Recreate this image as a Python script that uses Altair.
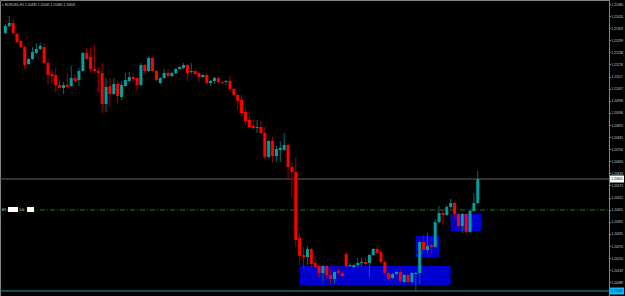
import altair as alt
import pandas as pd

# ---- candle data (EURUSD, H1) ----
opens = [1.21335, 1.21370, 1.21385, 1.21330, 1.21295, 1.21265, 1.21180, 1.21205, 1.21235, 1.21255,
         1.21265, 1.21185, 1.21130, 1.21125, 1.21075, 1.21060, 1.21075, 1.21070, 1.21110, 1.21100,
         1.21145, 1.21235, 1.21215, 1.21155, 1.21145, 1.21135, 1.20980, 1.21070, 1.21030, 1.21080,
         1.21015, 1.21070, 1.21095, 1.21115, 1.21110, 1.21075, 1.21175, 1.21145, 1.21210, 1.21145,
         1.21085, 1.21110, 1.21135, 1.21120, 1.21135, 1.21155, 1.21160, 1.21175, 1.21140, 1.21145,
         1.21135, 1.21115, 1.21125, 1.21085, 1.21095, 1.21110, 1.21090, 1.21090, 1.21095, 1.21055,
         1.21025, 1.21000, 1.20940, 1.20900, 1.20870, 1.20860, 1.20865, 1.20835, 1.20715, 1.20795,
         1.20720, 1.20750, 1.20750, 1.20775, 1.20665, 1.20640, 1.20310, 1.20225, 1.20215, 1.20255,
         1.20185, 1.20170, 1.20135, 1.20170, 1.20125, 1.20105, 1.20145, 1.20135, 1.20230, 1.20170,
         1.20165, 1.20175, 1.20185, 1.20190, 1.20185, 1.20225, 1.20255, 1.20240, 1.20190, 1.20135,
         1.20110, 1.20130, 1.20140, 1.20090, 1.20125, 1.20090, 1.20130, 1.20135, 1.20290, 1.20250,
         1.20275, 1.20265, 1.20390, 1.20435, 1.20425, 1.20465, 1.20485, 1.20430, 1.20370, 1.20430,
         1.20340, 1.20445, 1.20485]
highs = [1.21380, 1.21420, 1.21405, 1.21335, 1.21300, 1.21270, 1.21210, 1.21265, 1.21285, 1.21285,
         1.21285, 1.21205, 1.21155, 1.21160, 1.21100, 1.21090, 1.21135, 1.21170, 1.21130, 1.21160,
         1.21240, 1.21260, 1.21260, 1.21275, 1.21165, 1.21185, 1.21110, 1.21110, 1.21110, 1.21095,
         1.21095, 1.21135, 1.21140, 1.21135, 1.21115, 1.21185, 1.21180, 1.21215, 1.21215, 1.21150,
         1.21115, 1.21155, 1.21155, 1.21140, 1.21160, 1.21170, 1.21185, 1.21180, 1.21185, 1.21150,
         1.21140, 1.21130, 1.21135, 1.21100, 1.21115, 1.21115, 1.21095, 1.21100, 1.21120, 1.21060,
         1.21030, 1.21025, 1.20960, 1.20925, 1.20900, 1.20900, 1.20895, 1.20865, 1.20800, 1.20815,
         1.20775, 1.20795, 1.20835, 1.20780, 1.20690, 1.20715, 1.20335, 1.20265, 1.20270, 1.20260,
         1.20215, 1.20175, 1.20175, 1.20175, 1.20150, 1.20145, 1.20160, 1.20145, 1.20240, 1.20185,
         1.20180, 1.20210, 1.20210, 1.20210, 1.20230, 1.20260, 1.20265, 1.20255, 1.20195, 1.20140,
         1.20135, 1.20145, 1.20155, 1.20130, 1.20130, 1.20140, 1.20140, 1.20295, 1.20325, 1.20335,
         1.20315, 1.20405, 1.20470, 1.20450, 1.20475, 1.20505, 1.20490, 1.20435, 1.20435, 1.20435,
         1.20450, 1.20535, 1.20645]
lows = [1.21330, 1.21365, 1.21330, 1.21280, 1.21260, 1.21155, 1.21175, 1.21200, 1.21230, 1.21250,
        1.21180, 1.21080, 1.21080, 1.21040, 1.21055, 1.21030, 1.21060, 1.21065, 1.21085, 1.21070,
        1.21140, 1.21200, 1.21140, 1.21135, 1.21040, 1.20935, 1.20940, 1.20965, 1.21025, 1.20985,
        1.21000, 1.21065, 1.21090, 1.21090, 1.21045, 1.21070, 1.21130, 1.21140, 1.21140, 1.21090,
        1.21080, 1.21105, 1.21115, 1.21115, 1.21130, 1.21150, 1.21155, 1.21095, 1.21130, 1.21125,
        1.21090, 1.21110, 1.21080, 1.21070, 1.21080, 1.21085, 1.21080, 1.21075, 1.21050, 1.21020,
        1.20950, 1.20915, 1.20875, 1.20860, 1.20850, 1.20835, 1.20830, 1.20710, 1.20710, 1.20690,
        1.20690, 1.20690, 1.20745, 1.20600, 1.20515, 1.20265, 1.20175, 1.20155, 1.20175, 1.20165,
        1.20160, 1.20110, 1.20095, 1.20105, 1.20080, 1.20080, 1.20130, 1.20115, 1.20165, 1.20165,
        1.20160, 1.20160, 1.20165, 1.20175, 1.20115, 1.20220, 1.20230, 1.20185, 1.20130, 1.20100,
        1.20105, 1.20125, 1.20090, 1.20085, 1.20085, 1.20080, 1.20040, 1.20080, 1.20245, 1.20235,
        1.20225, 1.20260, 1.20385, 1.20375, 1.20420, 1.20460, 1.20410, 1.20360, 1.20335, 1.20335,
        1.20335, 1.20440, 1.20480]
closes = [1.21370, 1.21385, 1.21335, 1.21290, 1.21265, 1.21175, 1.21205, 1.21240, 1.21255, 1.21270,
          1.21185, 1.21125, 1.21120, 1.21075, 1.21060, 1.21075, 1.21065, 1.21110, 1.21095, 1.21145,
          1.21235, 1.21205, 1.21155, 1.21145, 1.21135, 1.20980, 1.21065, 1.21030, 1.21080, 1.21020,
          1.21075, 1.21100, 1.21115, 1.21105, 1.21075, 1.21175, 1.21145, 1.21210, 1.21145, 1.21100,
          1.21110, 1.21135, 1.21120, 1.21135, 1.21155, 1.21165, 1.21175, 1.21135, 1.21145, 1.21130,
          1.21115, 1.21125, 1.21085, 1.21095, 1.21110, 1.21090, 1.21085, 1.21095, 1.21055, 1.21025,
          1.20995, 1.20935, 1.20895, 1.20865, 1.20860, 1.20865, 1.20835, 1.20715, 1.20795, 1.20720,
          1.20755, 1.20760, 1.20775, 1.20665, 1.20640, 1.20300, 1.20220, 1.20215, 1.20255, 1.20180,
          1.20165, 1.20135, 1.20170, 1.20125, 1.20105, 1.20140, 1.20135, 1.20120, 1.20170, 1.20175,
          1.20175, 1.20185, 1.20190, 1.20180, 1.20225, 1.20255, 1.20235, 1.20190, 1.20135, 1.20105,
          1.20130, 1.20140, 1.20095, 1.20125, 1.20090, 1.20135, 1.20135, 1.20290, 1.20250, 1.20270,
          1.20265, 1.20390, 1.20435, 1.20425, 1.20465, 1.20485, 1.20430, 1.20370, 1.20430, 1.20340,
          1.20445, 1.20485, 1.20605]

# ---- blue zones (bar index range, price range) ----
zone_start = [76, 106, 115]
zone_end = [115, 112, 123]
zone_top = [1.20170, 1.20320, 1.20430]
zone_bottom = [1.20075, 1.20215, 1.20345]

# ---- horizontal levels ----
bid_price = 1.20605
level_green = 1.20450
level_cyan = 1.20045

# ---- right price scale labels ----
tick_values = [1.21480, 1.21420, 1.21359, 1.21299, 1.21238, 1.21178, 1.21117, 1.21057,
               1.20996, 1.20936, 1.20875, 1.20815, 1.20754, 1.20694, 1.20633, 1.20573,
               1.20512, 1.20452, 1.20391, 1.20331, 1.20270, 1.20210, 1.20149, 1.20089]

header_text = "\u25be EURUSD,H1  1.20485 1.20645 1.20480 1.20605"

UP = "#00a0a0"
DOWN = "#ff0000"
UP_WICK = "#006a6a"
DOWN_WICK = "#a00000"
GRID = "#808080"

df = pd.DataFrame({"i": list(range(len(opens))), "open": opens, "high": highs,
                   "low": lows, "close": closes})
zones = pd.DataFrame({"x0": zone_start, "x1": zone_end, "top": zone_top, "bottom": zone_bottom})

xs = alt.Scale(domain=[-0.1, 154.6], nice=False, zero=False)
ys = alt.Scale(domain=[1.20015, 1.21500], nice=False, zero=False)

y_axis = alt.Axis(
    orient="right", values=tick_values, format=".5f", grid=False,
    labelColor="#d0d0d0", labelFontSize=3.2, labelFont="Liberation Sans",
    labelPadding=0.5, tickSize=1.5, tickColor=GRID, domainColor=GRID,
    labelAlign="left", labelBaseline="middle", labelOverlap=False, title=None)

up_cond = "datum.close >= datum.open"

zone_layer = alt.Chart(zones).mark_rect(color="#0000d0").encode(
    x=alt.X("x0:Q", scale=xs, axis=None), x2="x1:Q",
    y=alt.Y("top:Q", scale=ys, axis=y_axis), y2="bottom:Q")

def hline(price, color, dash=None, width=1):
    kw = dict(color=color, strokeWidth=width)
    if dash:
        kw["strokeDash"] = dash
    return alt.Chart(pd.DataFrame({"p": [price]})).mark_rule(**kw).encode(
        y=alt.Y("p:Q", scale=ys, axis=y_axis),
        x=alt.value(0), x2=alt.value(609))

bid_line = hline(bid_price, "#606060")
green_line = hline(level_green, "#1f7a1f", dash=[5, 2, 1, 2])
cyan_line = hline(level_cyan, "#1f8fb5")

wicks = alt.Chart(df).mark_rule(strokeWidth=1).encode(
    x=alt.X("i:Q", scale=xs, axis=None),
    y=alt.Y("low:Q", scale=ys, axis=y_axis),
    y2="high:Q",
    color=alt.condition(up_cond, alt.value(UP_WICK), alt.value(DOWN_WICK)))

bodies = alt.Chart(df).mark_bar(size=3).encode(
    x=alt.X("i:Q", scale=xs, axis=None),
    y=alt.Y("open:Q", scale=ys, axis=y_axis), y2="close:Q",
    color=alt.condition(up_cond, alt.value(UP), alt.value(DOWN)))

def price_box(price, fill, text_color):
    d = pd.DataFrame({"p": [price], "t": [f"{price:.5f}"]})
    box = alt.Chart(d).mark_rect(color=fill, yOffset=-3.5, y2Offset=3.5).encode(
        y=alt.Y("p:Q", scale=ys, axis=y_axis), y2="p:Q",
        x=alt.value(610), x2=alt.value(624))
    txt = alt.Chart(d).mark_text(fontSize=3.2, font="Liberation Sans", color=text_color,
                                 align="center", baseline="middle").encode(
        y=alt.Y("p:Q", scale=ys, axis=y_axis), x=alt.value(617), text="t:N")
    return box + txt

bid_box = price_box(bid_price, "#ffffff", "#000000")
cyan_box = price_box(level_cyan, "#00bfff", "#000000")

header = alt.Chart(pd.DataFrame({"t": [header_text]})).mark_text(
    fontSize=3.3, font="Liberation Sans", color="#c8c8c8", align="left", baseline="middle"
).encode(x=alt.value(2), y=alt.value(5), text="t:N")

lvl_text1 = alt.Chart(pd.DataFrame({"t": ["P1"]})).mark_text(
    fontSize=3.6, color="#c8c8c8", align="left", baseline="middle").encode(
    x=alt.value(2), y=alt.value(210), text="t:N")
lvl_box1 = alt.Chart(pd.DataFrame({"t": ["P1"]})).mark_rect(color="#ffffff").encode(
    x=alt.value(8), x2=alt.value(18), y=alt.value(207), y2=alt.value(212))
lvl_text2 = alt.Chart(pd.DataFrame({"t": ["1.5"]})).mark_text(
    fontSize=3.6, color="#c8c8c8", align="left", baseline="middle").encode(
    x=alt.value(19), y=alt.value(210), text="t:N")
lvl_box2 = alt.Chart(pd.DataFrame({"t": ["1.5"]})).mark_rect(color="#ffffff").encode(
    x=alt.value(27), x2=alt.value(34), y=alt.value(207), y2=alt.value(212))

chart = alt.layer(
    zone_layer, bid_line, green_line, cyan_line, wicks, bodies,
    bid_box, cyan_box, header, lvl_text1, lvl_box1, lvl_text2, lvl_box2
).properties(
    width=609, height=297, background="#000000",
    padding={"left": 0, "top": 0, "right": 16, "bottom": 0},
    autosize=alt.AutoSizeParams(type="none")
).configure_view(stroke=GRID, strokeWidth=1)

chart.save("out.html", embed_options={"renderer": "svg", "actions": False})
